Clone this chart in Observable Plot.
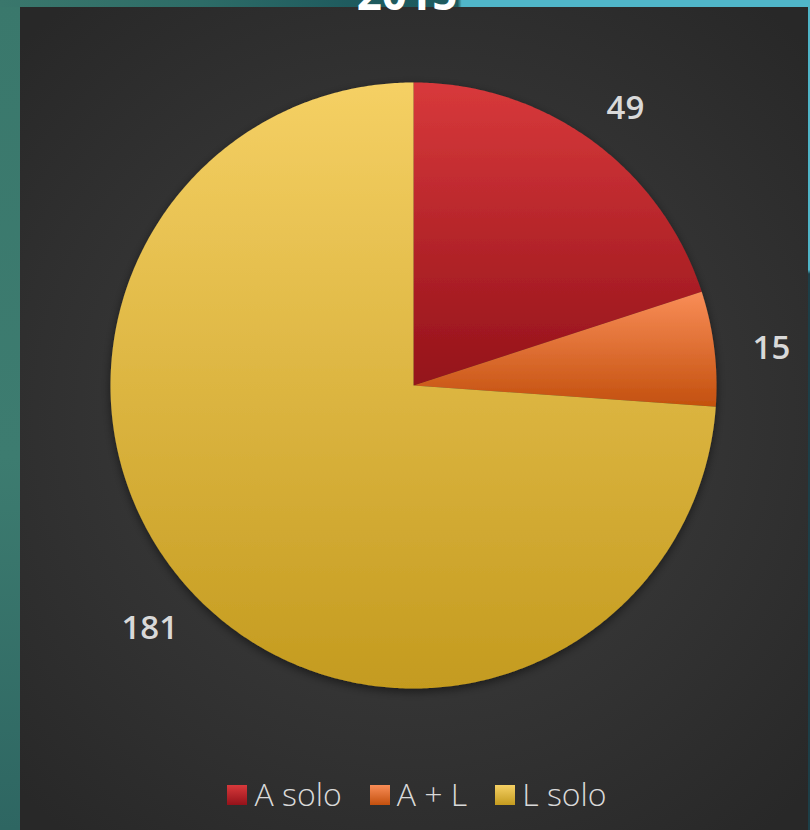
<!DOCTYPE html>
<html>
<head>
<meta charset="utf-8">
<script src="https://cdn.jsdelivr.net/npm/d3@7"></script>
<script src="https://cdn.jsdelivr.net/npm/@observablehq/plot@0.6"></script>
<style>
html,body{margin:0;padding:0;width:810px;height:830px;overflow:hidden;background:#3a786c;}
#frame{position:absolute;left:0;top:0;width:810px;height:830px;background:linear-gradient(180deg,#3a786c 0%,#3d7c70 55%,#2e6662 100%);}
#topbar{position:absolute;left:0;top:0;width:810px;height:7px;background:linear-gradient(90deg,#3a776c 0%,#2d6c67 25%,#1e5a5e 44%,#1f5b5f 56.5%,#50b6c9 57%,#50b6c9 100%);}
#rightbar{position:absolute;left:808px;top:0;width:2px;height:830px;background:linear-gradient(180deg,#50b6c9 0%,#50b6c9 32.5%,#1c3f48 33%,#1c3f48 100%);}
#panel{position:absolute;left:20px;top:7px;width:788px;height:823px;background:radial-gradient(ellipse 70% 65% at 50% 50%,#3e3e3e 0%,#363636 45%,#282828 100%);}
#title{position:absolute;left:0;width:810px;top:-29px;text-align:center;font:700 44px/44px "Open Sans",sans-serif;color:#fff;padding-left:4px;box-sizing:border-box;}
#chart{position:absolute;left:0;top:0;}
#legend{position:absolute;left:0;top:767px;width:788px;display:flex;justify-content:center;align-items:center;gap:28px;font:300 32px/40px "Open Sans",sans-serif;color:#d9d9d9;padding-left:6px;box-sizing:border-box;}
#legend .item{display:flex;align-items:center;gap:7px;}
#legend .sw{width:20px;height:20px;display:inline-block;margin-top:2px;}
</style>
</head>
<body>
<div id="frame"></div>
<div id="topbar"></div>
<div id="rightbar"></div>
<div id="panel">
  <div id="chart"></div>
  <div id="legend"></div>
</div>
<div id="title">2015</div>
<script>
// ---- data ----
const title = "2015";
const categories = ["A solo", "A + L", "L solo"];
const values = [49, 15, 181];
const valueLabels = ["49", "15", "181"];

// ---- styles ----
const gradTop = ["#d8393b", "#f98d57", "#f5d064"];
const gradBottom = ["#94121a", "#c3500e", "#c49b1f"];
const cx = 393, cy = 378, R = 303;

const rows = categories.map((c, i) => ({cat: c, value: values[i], label: valueLabels[i], i}));
const arcs = d3.pie().sort(null).value(d => d.value)(rows);

// polygon points for each slice, computed from the pie layout
const pts = [];
arcs.forEach(a => {
  const n = Math.max(8, Math.ceil((a.endAngle - a.startAngle) / (Math.PI / 360)));
  pts.push({cat: a.data.cat, x: 0, y: 0});
  for (let j = 0; j <= n; j++) {
    const t = a.startAngle + (a.endAngle - a.startAngle) * j / n;
    pts.push({cat: a.data.cat, x: Math.sin(t), y: Math.cos(t)});
  }
});
const labelPts = arcs.map(a => {
  const m = (a.startAngle + a.endAngle) / 2;
  return {x: 1.19 * Math.sin(m), y: 1.15 * Math.cos(m), label: a.data.label};
});

const svg = Plot.plot({
  width: 788,
  height: 760,
  margin: 0,
  style: {background: "transparent", overflow: "visible"},
  x: {domain: [-1, 1], range: [cx - R, cx + R], axis: null},
  y: {domain: [-1, 1], range: [cy + R, cy - R], axis: null},
  color: {domain: categories, range: categories.map((c, i) => `url(#sliceGrad${i})`)},
  marks: [
    Plot.line(pts, {x: "x", y: "y", z: "cat", fill: "cat", stroke: "none", curve: "linear-closed"}),
    Plot.text(labelPts, {x: "x", y: "y", dy: 5, text: "label", fill: "#d9d9d9", fontSize: 33, fontWeight: 600, fontFamily: "Open Sans, sans-serif"})
  ]
});

const s = d3.select(svg);
const defs = s.insert("defs", ":first-child");
categories.forEach((c, i) => {
  const g = defs.append("linearGradient").attr("id", `sliceGrad${i}`)
    .attr("x1", 0).attr("y1", 0).attr("x2", 0).attr("y2", 1);
  g.append("stop").attr("offset", "0%").attr("stop-color", gradTop[i]);
  g.append("stop").attr("offset", "100%").attr("stop-color", gradBottom[i]);
});
const f = defs.append("filter").attr("id", "pieShadow").attr("x", "-20%").attr("y", "-20%").attr("width", "140%").attr("height", "140%");
f.append("feDropShadow").attr("dx", 0).attr("dy", 3).attr("stdDeviation", 5).attr("flood-color", "#000").attr("flood-opacity", 0.5);
s.select("g[aria-label=line]").attr("filter", "url(#pieShadow)");

document.getElementById("chart").appendChild(svg);

// legend
const leg = d3.select("#legend");
categories.forEach((c, i) => {
  const it = leg.append("div").attr("class", "item");
  it.append("span").attr("class", "sw").style("background", `linear-gradient(180deg, ${gradTop[i]}, ${gradBottom[i]})`);
  it.append("span").text(c);
});
document.getElementById("title").textContent = title;
</script>
</body>
</html>
